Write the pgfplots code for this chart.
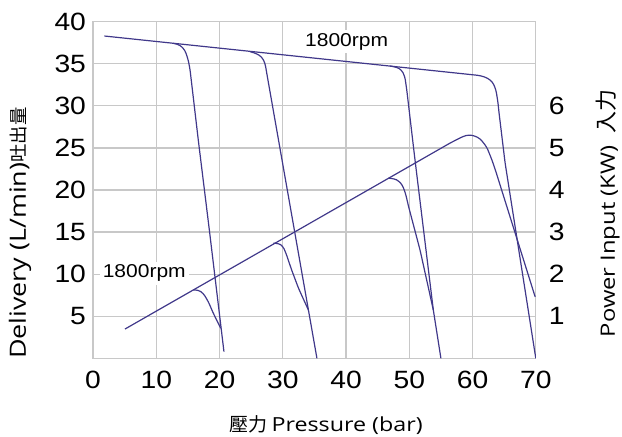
\documentclass[border=0pt]{standalone}
\usepackage{pgfplots}
\pgfplotsset{compat=1.18}
\usepackage{fontspec}
\setmainfont{Liberation Sans}
\newfontfamily\tickfont[FakeStretch=1.13]{Liberation Sans}
\newfontfamily\labfont[FakeStretch=1.2]{Open Sans}
\newfontfamily\cjk{Noto Sans CJK TC}
\definecolor{gridgray}{HTML}{C8C8C8}
\definecolor{curve}{HTML}{40388A}

\begin{document}
\begin{tikzpicture}
\pgfplotsset{
  base/.style={
    scale only axis, width=221.4pt, height=168.3pt,
    at={(0,0)}, anchor=south west,
    xmin=0, xmax=70,
    tick style={draw=none},
    ticklabel style={font=\tickfont\fontsize{12.5}{14}\selectfont},
    /pgf/number format/assume math mode=true,
  },
  crv/.style={curve, line width=0.6pt, rounded corners=1.5pt, mark=none},
}
% delivery (L/min), left axis
\begin{axis}[base,
  ymin=0, ymax=40,
  xtick={0,10,...,70}, ytick={5,10,...,40},
  grid=major, major grid style={draw=gridgray, line width=0.6pt},
  axis line style={draw=gridgray, line width=0.6pt},
  xticklabel style={yshift=-3pt},
]
\addplot[crv] coordinates {(1.8,38.3) (61.2,33.6) (62.4,33.3) (63.2,32.8) (63.7,31.9) (64.0,30.5) (64.2,29.1) (65.15,23.2) (70,0)};
\addplot[crv] coordinates {(12.7,37.43) (13.76,37.23) (14.55,36.6) (15.07,35.4) (15.34,34.3) (16.65,25.9) (18.4,15.2) (20.7,0.8)};
\addplot[crv] coordinates {(24.83,36.44) (25.9,36.2) (26.7,35.8) (27.2,35.06) (27.47,33.87) (35.4,0)};
\addplot[crv] coordinates {(46.96,34.73) (48.0,34.6) (48.8,34.26) (49.3,33.46) (49.6,31.9) (50.9,23.6) (53.8,5.74) (55.0,0)};
\node[fill=white, inner sep=1.5pt, font=\tickfont\fontsize{9.3}{10}\selectfont] at (axis cs:40.1,37.6) {1800rpm};
\node[fill=white, inner sep=1.5pt, font=\tickfont\fontsize{9.3}{10}\selectfont] at (axis cs:8.1,10.1) {1800rpm};
\end{axis}
% power input (KW), right axis
\begin{axis}[base,
  ymin=0, ymax=8,
  axis y line*=right, axis x line=none,
  ytick={1,...,6},
  y axis line style={draw=none},
  yticklabel style={xshift=3pt},
]
\addplot[crv] coordinates {(5.06,0.696) (56.5,5.12) (57.8,5.22) (58.6,5.28) (59.35,5.31) (60.3,5.29) (61.2,5.22) (62.25,5.02) (63.05,4.72) (63.6,4.48) (69.9,1.46)};
\addplot[crv] coordinates {(15.86,1.624) (16.65,1.624) (17.44,1.544) (18.23,1.346) (19.02,1.07) (19.81,0.832) (20.2,0.714)};
\addplot[crv] coordinates {(28.5,2.734) (29.3,2.734) (30.0,2.67) (30.5,2.5) (31.4,2.1) (32.5,1.66) (34.05,1.148)};
\addplot[crv] coordinates {(46.7,4.28) (47.6,4.27) (48.3,4.22) (48.9,4.12) (49.4,3.92) (49.9,3.6) (51.7,2.574) (53.8,1.148)};
\end{axis}
\node[rotate=90] at (-36.5pt,62.6pt) {\labfont\fontsize{11.2}{13}\selectfont Delivery (L/min)\cjk\fontsize{9.2}{11}\selectfont 吐出量};
\node[rotate=90] at (257.5pt,72.4pt) {\labfont\fontsize{9.9}{12}\selectfont Power Input (KW)\hspace{0.6em}\cjk\fontsize{11}{13}\selectfont 入力};
\node at (116.5pt,-33.4pt) {\cjk\fontsize{9.5}{11}\selectfont 壓力 \labfont\fontsize{9.7}{12}\selectfont Pressure (bar)};
\pgfresetboundingbox
\path[use as bounding box] (-46.5pt,-38.85pt) rectangle (264.5pt,179.15pt);
\end{tikzpicture}
\end{document}
